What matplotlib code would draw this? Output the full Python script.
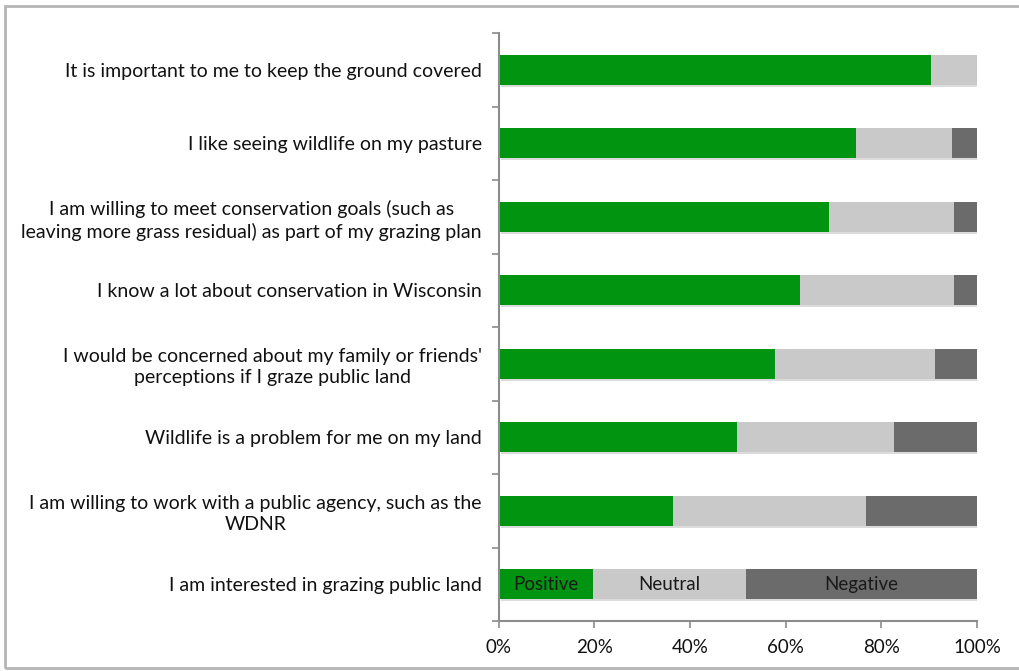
import matplotlib
matplotlib.use("Agg")
import matplotlib.pyplot as plt
import matplotlib.patheffects as pe
from matplotlib.patches import Rectangle
import numpy as np

categories = [
    "It is important to me to keep the ground covered",
    "I like seeing wildlife on my pasture",
    "I am willing to meet conservation goals (such as\nleaving more grass residual) as part of my grazing plan",
    "I know a lot about conservation in Wisconsin",
    "I would be concerned about my family or friends'\nperceptions if I graze public land",
    "Wildlife is a problem for me on my land",
    "I am willing to work with a public agency, such as the\nWDNR",
    "I am interested in grazing public land",
]
positive = [90.4, 74.7, 69.1, 63.0, 57.8, 49.9, 36.4, 19.8]
neutral = [9.6, 20.0, 26.1, 32.2, 33.5, 32.7, 40.5, 31.9]
negative = [0.0, 5.3, 4.8, 4.8, 8.7, 17.4, 23.1, 48.3]
series_names = ["Positive", "Neutral", "Negative"]
colors = ["#009410", "#c9c9c9", "#6b6b6b"]
xticks = [0, 20, 40, 60, 80, 100]
xticklabels = ["0%", "20%", "40%", "60%", "80%", "100%"]

plt.rcParams['font.family'] = ['Lato', 'DejaVu Sans']

fig = plt.figure(figsize=(10.19, 6.71), dpi=100)
fig.patches.append(Rectangle((5/1019, 3/671), 1.2, 662/671, transform=fig.transFigure,
                             fill=False, edgecolor="#b5b5b5", linewidth=2.0))
ax = fig.add_axes([498.5/1019, 1 - 621/671, (977 - 498.5)/1019, (621 - 33)/671])

y = np.arange(len(categories))
left = np.zeros(len(categories))
shadow = [pe.SimplePatchShadow(offset=(1.5, -1.5), shadow_rgbFace="#999999", alpha=0.35), pe.Normal()]
for name, vals, c in zip(series_names, [positive, neutral, negative], colors):
    bars = ax.barh(y, vals, left=left, height=0.41, color=c, edgecolor="none", label=name)
    for b in bars:
        b.set_path_effects(shadow)
    i = len(categories) - 1
    ax.text(left[i] + vals[i] / 2, y[i], name, ha="center", va="center", fontsize=13.5, color="#1a1a1a")
    left = left + np.array(vals)

ax.set_xlim(0, 100)
ax.set_ylim(len(categories) - 0.5, -0.5)
ax.set_yticks(y)
ax.set_yticklabels(categories, fontsize=14, color="#111111", multialignment="center",
                   linespacing=1.3)
ax.tick_params(axis="y", length=0, pad=12)
ax.set_yticks(np.arange(-0.5, len(categories), 1.0), minor=True)
ax.tick_params(axis="y", which="minor", length=5, width=1.2, color="#8c8c8c")
ax.set_xticks(xticks)
ax.set_xticklabels(xticklabels, fontsize=13.5, color="#111111")
ax.tick_params(axis="x", length=5, width=1.2, color="#8c8c8c", pad=8)

for s in ["top", "right"]:
    ax.spines[s].set_visible(False)
for s in ["left", "bottom"]:
    ax.spines[s].set_color("#8c8c8c")
    ax.spines[s].set_linewidth(1.5)

fig.savefig("out.png", dpi=100)
